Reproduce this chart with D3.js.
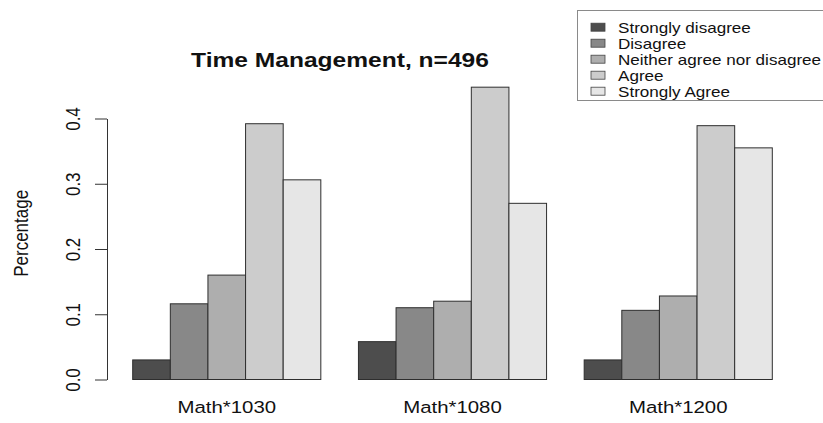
<!DOCTYPE html>
<html>
<head>
<meta charset="utf-8">
<script src="https://cdn.jsdelivr.net/npm/d3@7"></script>
<style>
  html, body { margin: 0; padding: 0; background: #ffffff; }
  svg { display: block; }
  text { font-family: "Liberation Sans", Arial, Helvetica, sans-serif; fill: #111; }
</style>
</head>
<body>
<svg id="chart" width="823" height="423"></svg>
<script>
// ---- data ----
const categories = ["Math*1030", "Math*1080", "Math*1200"];
const responses = ["Strongly disagree", "Disagree", "Neither agree nor disagree", "Agree", "Strongly Agree"];
const stronglyDisagree = [0.030, 0.058, 0.030];
const disagree         = [0.116, 0.110, 0.106];
const neither          = [0.160, 0.120, 0.128];
const agree            = [0.392, 0.448, 0.389];
const stronglyAgree    = [0.306, 0.270, 0.355];
const yTicks = [0.0, 0.1, 0.2, 0.3, 0.4];
const yTickLabels = ["0.0", "0.1", "0.2", "0.3", "0.4"];
const titleText = "Time Management, n=496";
const yLabel = "Percentage";
const colors = ["#4d4d4d", "#888888", "#aeaeae", "#cccccc", "#e6e6e6"];

const series = [stronglyDisagree, disagree, neither, agree, stronglyAgree];

const SX = 1.2; // horizontal stretch of the original image's text

const svg = d3.select("#chart");
svg.append("rect").attr("width", 823).attr("height", 423).attr("fill", "#fff");

// ---- scales ----
const x0 = d3.scaleBand().domain(categories).range([132.7, 772.3]).paddingInner(1 / 6).paddingOuter(0);
const x1 = d3.scaleBand().domain(responses).range([0, x0.bandwidth()]).padding(0);
const y = d3.scaleLinear().domain([0, 0.4]).range([379.5, 118.5]);

// ---- bars ----
const groups = svg.append("g").selectAll("g")
  .data(categories)
  .join("g")
  .attr("transform", d => `translate(${x0(d)},0)`);

groups.selectAll("rect")
  .data((c, ci) => responses.map((r, ri) => ({ r, ri, v: series[ri][ci] })))
  .join("rect")
  .attr("x", d => x1(d.r))
  .attr("y", d => y(d.v))
  .attr("width", x1.bandwidth())
  .attr("height", d => y(0) - y(d.v))
  .attr("fill", d => colors[d.ri])
  .attr("stroke", "#2e2e2e")
  .attr("stroke-width", 1);

// ---- y axis ----
const axisX = 107;
const yAxis = d3.axisLeft(y).tickValues(yTicks).tickFormat((d, i) => yTickLabels[i]).tickSize(12).tickSizeOuter(0);
const gy = svg.append("g").attr("transform", `translate(${axisX},0)`).call(yAxis);
gy.select(".domain").attr("stroke", "#333").attr("stroke-width", 1);
gy.selectAll(".tick line").attr("stroke", "#333");
gy.selectAll(".tick text")
  .attr("x", null).attr("dy", null)
  .attr("text-anchor", "middle")
  .attr("font-size", 17)
  .attr("fill", "#222")
  .attr("transform", `translate(-27,0) scale(${SX},1) rotate(-90)`);

// y label
svg.append("text")
  .attr("text-anchor", "middle")
  .attr("font-size", 17)
  .attr("transform", `translate(28,${y(0.224)}) scale(${SX},1) rotate(-90)`)
  .text(yLabel);

// ---- category labels ----
svg.append("g").selectAll("text")
  .data(categories)
  .join("text")
  .attr("text-anchor", "middle")
  .attr("font-size", 17)
  .attr("transform", d => `translate(${x0(d) + x0.bandwidth() / 2},413) scale(${SX},1)`)
  .text(d => d);

// ---- title ----
svg.append("text")
  .attr("text-anchor", "middle")
  .attr("font-size", 21)
  .attr("font-weight", "bold")
  .attr("transform", `translate(340,67) scale(1.17,1)`)
  .text(titleText);

// ---- legend ----
const lg = svg.append("g");
lg.append("rect")
  .attr("x", 577.5).attr("y", 10.5).attr("width", 260).attr("height", 90)
  .attr("fill", "#fff").attr("stroke", "#8a8a8a").attr("stroke-width", 1);
const rows = lg.selectAll("g.row")
  .data(responses)
  .join("g")
  .attr("class", "row")
  .attr("transform", (d, i) => `translate(0,${32.7 + i * 16})`);
rows.append("rect")
  .attr("x", 591).attr("y", -9.5).attr("width", 14).attr("height", 8)
  .attr("fill", (d, i) => colors[i])
  .attr("stroke", "#444").attr("stroke-width", 0.8);
rows.append("text")
  .attr("font-size", 14)
  .attr("transform", `translate(618,0) scale(1.22,1)`)
  .text(d => d);
</script>
</body>
</html>
